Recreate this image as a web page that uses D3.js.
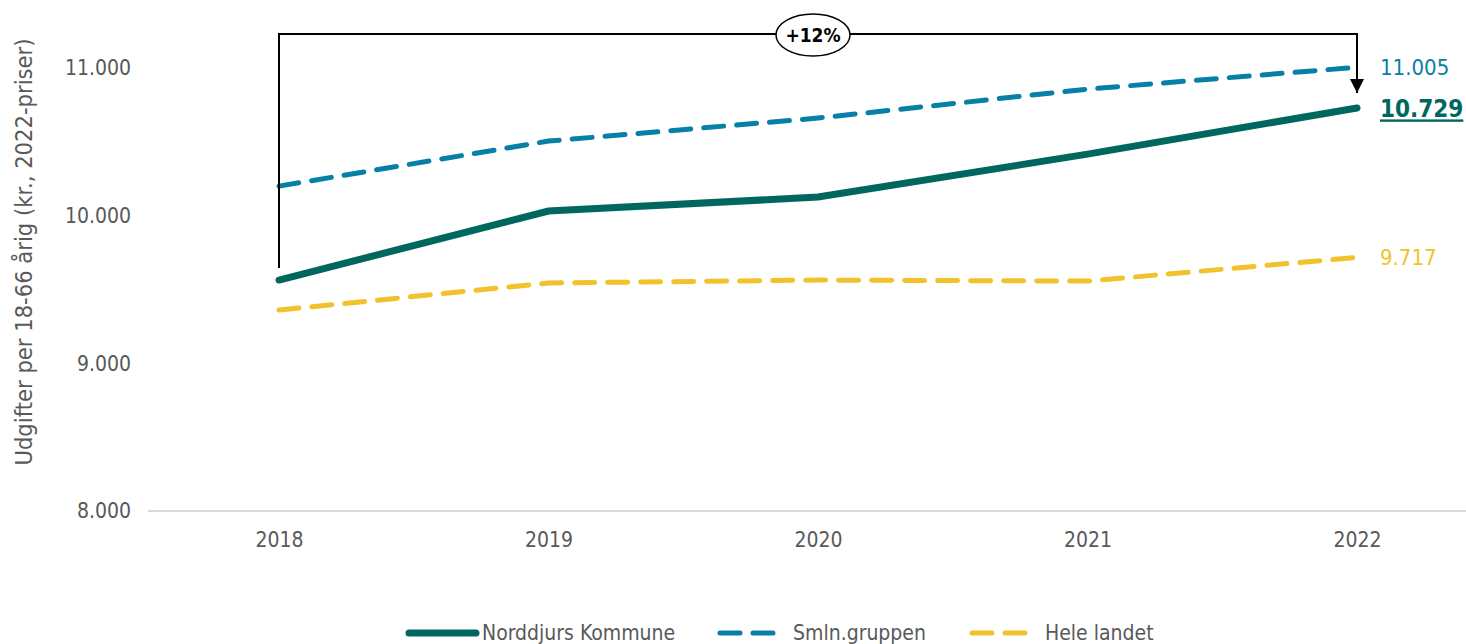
<!DOCTYPE html>
<html>
<head>
<meta charset="utf-8">
<script src="https://cdn.jsdelivr.net/npm/d3@7"></script>
<style>
  body { margin: 0; background: #fff; }
  svg text { font-family: "DejaVu Sans Condensed", "DejaVu Sans", sans-serif; }
</style>
</head>
<body>
<div id="chart"></div>
<script>
// data
const years = ["2018", "2019", "2020", "2021", "2022"];
const norddjurs = [9564, 10031, 10126, 10417, 10729];
const smln = [10200, 10505, 10661, 10857, 11005];
const heleLandet = [9361, 9544, 9564, 9557, 9717];
const yTicks = [8000, 9000, 10000, 11000];
const seriesNames = ["Norddjurs Kommune", "Smln.gruppen", "Hele landet"];

const width = 1466, height = 644;
const colors = ["#00675f", "#0680a6", "#f1c22b"];
const font = '"DejaVu Sans Condensed", sans-serif';

const svg = d3.select("#chart").append("svg")
  .attr("width", width).attr("height", height);

const x = d3.scalePoint().domain(years).range([279, 1357]);
const y = d3.scaleLinear().domain([8000, 11000]).range([511, 68]);

const fmt = d => d3.format(",")(d).replace(/,/g, ".");

// x axis line + labels
svg.append("line")
  .attr("x1", 148).attr("x2", width)
  .attr("y1", y(8000)).attr("y2", y(8000))
  .attr("stroke", "#d9d9d9").attr("stroke-width", 2);

const xAxis = d3.axisBottom(x).tickSize(0).tickPadding(21);
const xg = svg.append("g").attr("transform", `translate(0,${y(8000)})`).call(xAxis);
xg.select(".domain").remove();
xg.selectAll("text").style("font-size", "21px").attr("fill", "#595959")
  .style("font-family", font);

// y axis labels
const yAxis = d3.axisLeft(y).tickValues(yTicks).tickSize(0).tickPadding(0).tickFormat(fmt);
const yg = svg.append("g").attr("transform", "translate(131,0)").call(yAxis);
yg.select(".domain").remove();
yg.selectAll("text").style("font-size", "21px").attr("fill", "#595959")
  .style("font-family", font);

// y title
svg.append("text")
  .attr("transform", "translate(32,252) rotate(-90)")
  .attr("text-anchor", "middle")
  .style("font-size", "23.5px").attr("fill", "#595959")
  .text("Udgifter per 18-66 årig (kr., 2022-priser)");

// lines
const line = d3.line().x((d, i) => x(years[i])).y(d => y(d));
const allSeries = [norddjurs, smln, heleLandet];
const widths = [7, 5, 5];
const dashes = [null, "20 13", "20 13"];

allSeries.slice().reverse().forEach((s, j) => {
  const i = allSeries.length - 1 - j;
  svg.append("path")
    .datum(s)
    .attr("d", line)
    .attr("fill", "none")
    .attr("stroke", colors[i])
    .attr("stroke-width", widths[i])
    .attr("stroke-linecap", "round")
    .attr("stroke-dasharray", dashes[i]);
});

// end labels
const last = years.length - 1;
svg.append("text").attr("x", 1380).attr("y", y(smln[last])).attr("dy", "0.35em")
  .style("font-size", "22px").attr("fill", colors[1]).text(fmt(smln[last]));
svg.append("text").attr("x", 1380).attr("y", y(heleLandet[last])).attr("dy", "0.35em")
  .style("font-size", "22px").attr("fill", colors[2]).text(fmt(heleLandet[last]));
svg.append("text").attr("x", 1380).attr("y", y(norddjurs[last]) + 1).attr("dy", "0.35em")
  .style("font-size", "24px").style("font-weight", "bold")
  .style("text-decoration", "underline")
  .attr("fill", colors[0]).text(fmt(norddjurs[last]));

// growth bracket
const change = Math.round((norddjurs[last] / norddjurs[0] - 1) * 100);
const topY = 34;
const x0 = x(years[0]), x1 = x(years[last]);
svg.append("defs").append("marker")
  .attr("id", "arrow").attr("viewBox", "0 0 10 10")
  .attr("refX", 10).attr("refY", 5)
  .attr("markerWidth", 7).attr("markerHeight", 7)
  .attr("markerUnits", "strokeWidth")
  .attr("orient", "auto")
  .append("path").attr("d", "M0,0 L10,5 L0,10 Z").attr("fill", "#000");

svg.append("path")
  .attr("d", `M${x0},${y(norddjurs[0]) - 12} V${topY} H${x1} V${y(norddjurs[last]) - 15}`)
  .attr("fill", "none").attr("stroke", "#000").attr("stroke-width", 2)
  .attr("marker-end", "url(#arrow)");

const cx = (x0 + x1) / 2 - 5;
svg.append("ellipse")
  .attr("cx", cx).attr("cy", topY + 1).attr("rx", 37).attr("ry", 21)
  .attr("fill", "#fff").attr("stroke", "#000").attr("stroke-width", 1.5);
svg.append("text").attr("x", cx).attr("y", topY + 1).attr("dy", "0.35em")
  .attr("text-anchor", "middle")
  .style("font-size", "19px").style("font-weight", "bold")
  .text(`+${change}%`);

// legend
const legendY = 633;
const legendX = [406, 717, 969];
seriesNames.forEach((name, i) => {
  const g = svg.append("g").attr("transform", `translate(${legendX[i]},${legendY})`);
  if (i === 0) {
    g.append("line").attr("x1", 3).attr("x2", 70)
      .attr("stroke", colors[i]).attr("stroke-width", 7).attr("stroke-linecap", "round");
  } else {
    g.append("line").attr("x1", 3).attr("x2", 62)
      .attr("stroke", colors[i]).attr("stroke-width", 5).attr("stroke-linecap", "round")
      .attr("stroke-dasharray", "20 13");
  }
  g.append("text").attr("x", 76).attr("dy", "0.35em")
    .style("font-size", "21px").attr("fill", "#595959").text(name);
});
</script>
</body>
</html>
